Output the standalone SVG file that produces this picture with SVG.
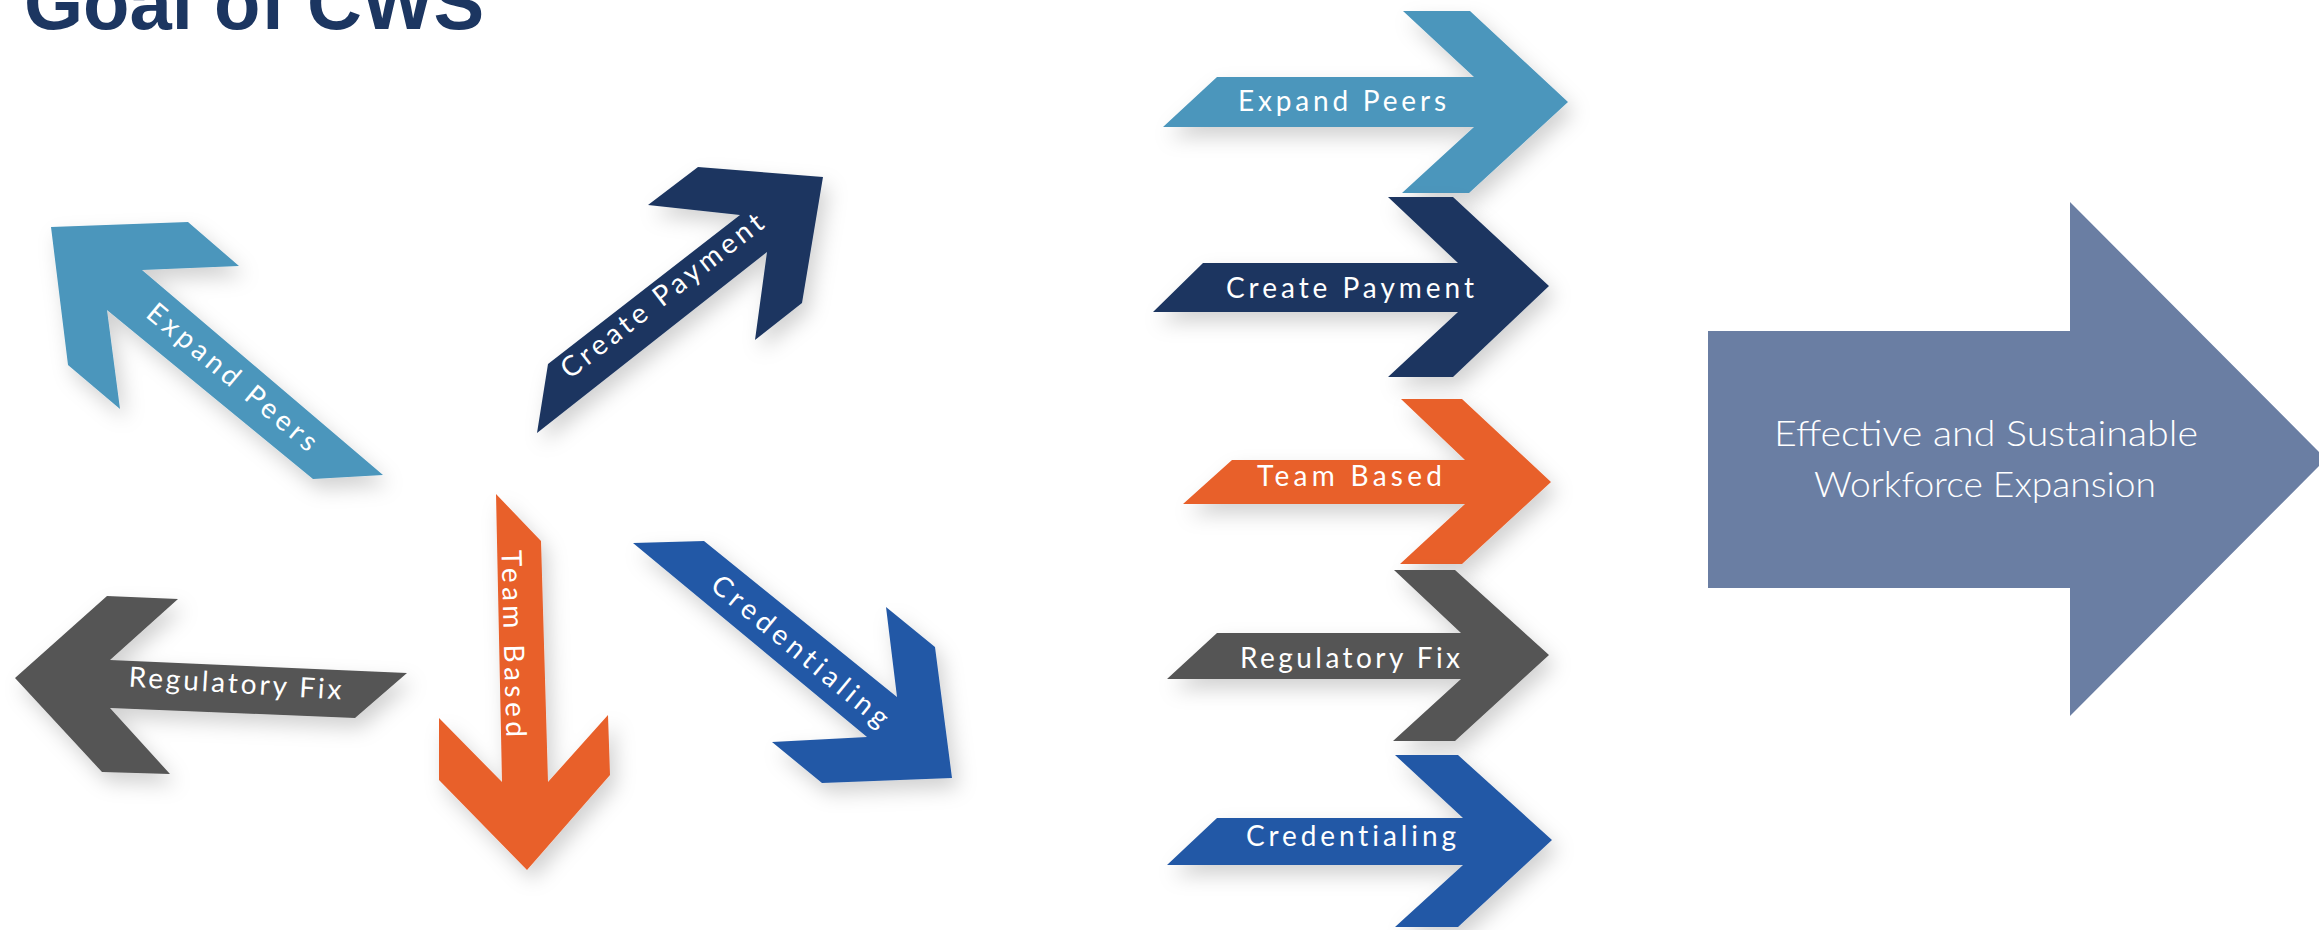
<svg xmlns="http://www.w3.org/2000/svg" width="2319" height="930" viewBox="0 0 2319 930">
  <defs>
    <filter id="shadow" x="-20%" y="-20%" width="150%" height="160%">
      <feDropShadow dx="6" dy="10" stdDeviation="10" flood-color="#000" flood-opacity="0.18"/>
    </filter>
  </defs>
  <style>
    .title { font-family: "Liberation Sans", Arial, sans-serif; font-weight: bold; font-size: 76px; fill: #1c3661; }
    .lbl { font-family: "Lato", "Open Sans", sans-serif; font-size: 28px; fill: #ffffff; letter-spacing: 1px; }
    .big { font-family: "Lato", "Open Sans", sans-serif; font-weight: 300; font-size: 36px; fill: #ffffff; }
    .shd { filter: url(#shadow); }
    .peers { fill: #4b96bc; }
    .pay { fill: #1c3661; }
    .team { fill: #e8602c; }
    .reg { fill: #555555; }
    .cred { fill: #2459a6; }
    .goal { fill: #6a7ea3; }
  </style>
  <rect width="2319" height="930" fill="#ffffff"/>

  <text class="title" x="24" y="29">Goal of CWS</text>

  <!-- scattered arrows -->
  <g id="scatter-expand-peers">
    <polygon class="peers shd" points="51,227 188,222 239,266 142,270 383,475 313,479 107,310 120,409 68,365"/>
    <text class="lbl" transform="translate(233,377) rotate(40)" x="0" y="10" text-anchor="middle" textLength="214" lengthAdjust="spacing">Expand Peers</text>
  </g>
  <g id="scatter-create-payment">
    <polygon class="pay shd" points="740,215 648,205 698,167 823,177 802,303 755,340 767,252 537,433 548,364"/>
    <text class="lbl" transform="translate(662,295) rotate(-38)" x="0" y="10" text-anchor="middle" textLength="250" lengthAdjust="spacing">Create Payment</text>
  </g>
  <g id="scatter-team-based">
    <polygon class="team shd" points="496,494 541,541 548,782 608,715 610,775 527,870 439,780 439,718 502,782"/>
    <text class="lbl" transform="translate(513,644) rotate(88.5)" x="0" y="9" text-anchor="middle" textLength="188" lengthAdjust="spacing">Team Based</text>
  </g>
  <g id="scatter-regulatory-fix">
    <polygon class="reg shd" points="15,678 107,596 178,599 110,660 407,673 355,718 110,708 170,774 102,772"/>
    <text class="lbl" transform="translate(235,693) rotate(3.5)" x="0" y="0" text-anchor="middle" textLength="214" lengthAdjust="spacing">Regulatory Fix</text>
  </g>
  <g id="scatter-credentialing">
    <polygon class="cred shd" points="633,543 704,541 897,697 886,607 935,647 952,778 822,783 772,742 867,737"/>
    <text class="lbl" transform="translate(801,651) rotate(39.5)" x="0" y="10" text-anchor="middle" textLength="222" lengthAdjust="spacing">Credentialing</text>
  </g>

  <!-- aligned arrows -->
  <g id="row-expand-peers">
    <polygon class="peers shd" points="1217,77 1474,77 1403,11 1470,11 1568,102 1469,193 1402,193 1474,127 1163,127"/>
    <text class="lbl" x="1238" y="111" textLength="209" lengthAdjust="spacing">Expand Peers</text>
  </g>
  <g id="row-create-payment">
    <polygon class="pay shd" points="1203,263 1458,263 1388,197 1453,197 1549,286 1453,377 1388,377 1458,312 1153,312"/>
    <text class="lbl" x="1226" y="298" textLength="249" lengthAdjust="spacing">Create Payment</text>
  </g>
  <g id="row-team-based">
    <polygon class="team shd" points="1232,460 1465,460 1401,399 1462,399 1551,482 1462,564 1400,564 1465,504 1183,504"/>
    <text class="lbl" x="1257" y="486" textLength="186" lengthAdjust="spacing">Team Based</text>
  </g>
  <g id="row-regulatory-fix">
    <polygon class="reg shd" points="1217,633 1461,633 1394,570 1455,570 1549,655 1455,741 1393,741 1461,679 1167,679"/>
    <text class="lbl" x="1240" y="668" textLength="221" lengthAdjust="spacing">Regulatory Fix</text>
  </g>
  <g id="row-credentialing">
    <polygon class="cred shd" points="1217,818 1463,818 1395,755 1458,755 1552,840 1458,927 1395,927 1463,865 1167,865"/>
    <text class="lbl" x="1246" y="846" textLength="211" lengthAdjust="spacing">Credentialing</text>
  </g>

  <!-- outcome arrow -->
  <g id="outcome">
    <polygon class="goal" points="1708,331 2070,331 2070,202 2326,459 2070,716 2070,588 1708,588"/>
    <text class="big" x="1986" y="446" text-anchor="middle" textLength="424" lengthAdjust="spacingAndGlyphs">Effective and Sustainable</text>
    <text class="big" x="1985" y="497" text-anchor="middle" textLength="342" lengthAdjust="spacingAndGlyphs">Workforce Expansion</text>
  </g>
</svg>
